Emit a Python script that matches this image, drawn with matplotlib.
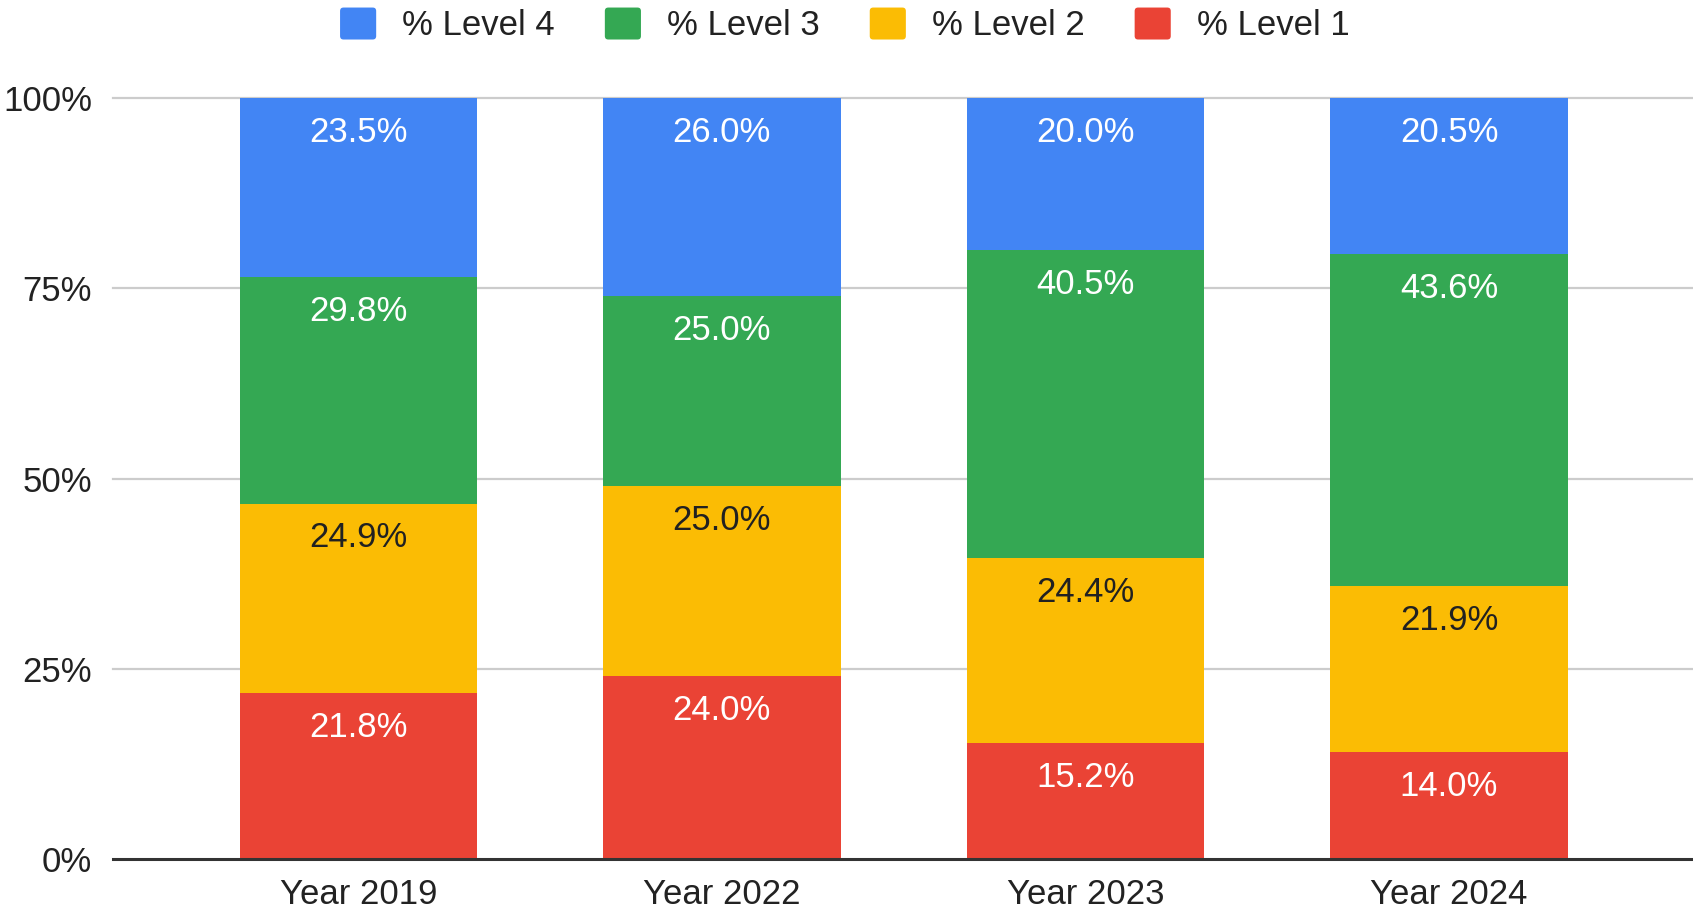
import matplotlib
matplotlib.use('Agg')
import numpy as np
from matplotlib import pyplot as plt
from matplotlib.patches import Patch, FancyBboxPatch
from matplotlib.legend_handler import HandlerPatch

plt.rcParams['font.family'] = ['Liberation Sans', 'DejaVu Sans']

years = ['Year 2019', 'Year 2022', 'Year 2023', 'Year 2024']
level_1 = [21.8, 24.0, 15.2, 14.0]
level_2 = [24.9, 25.0, 24.4, 21.9]
level_3 = [29.8, 25.0, 40.5, 43.6]
level_4 = [23.5, 26.0, 20.0, 20.5]

series = [('% Level 1', level_1, '#EA4335', 'white'),
          ('% Level 2', level_2, '#FBBC04', '#212121'),
          ('% Level 3', level_3, '#34A853', 'white'),
          ('% Level 4', level_4, '#4285F4', 'white')]

# total de cada barra, para apilar al 100%
totals = np.sum([level_1, level_2, level_3, level_4], axis=0)


class RoundSquare(HandlerPatch):
    # cuadrito de leyenda con esquinas redondeadas
    def create_artists(self, legend, orig_handle, xdescent, ydescent,
                       width, height, fontsize, trans):
        p = FancyBboxPatch((-xdescent, -ydescent), width, height,
                           boxstyle='round,pad=0,rounding_size=2.5',
                           facecolor=orig_handle.get_facecolor(),
                           edgecolor='none', transform=trans)
        return [p]


fig = plt.figure(figsize=(16.93, 9.11), dpi=100)
ax = fig.add_axes([0.0667, 0.0571, 0.9333, 0.8353])

x = np.arange(len(years))
bottom = np.zeros(len(years))
for name, vals, color, txt_color in series:
    frac = np.array(vals) / totals
    ax.bar(x, frac, 0.653, bottom=bottom, color=color, zorder=3, label=name)
    for xi, b, f, v in zip(x, bottom, frac, vals):
        ax.annotate(f'{v:.1f}%', (xi, b + f), xytext=(0, -31.5),
                    textcoords='offset points', ha='center', va='baseline',
                    color=txt_color, fontsize=25, zorder=4)
    bottom += frac

# rejilla horizontal
for yv in [0.25, 0.5, 0.75, 1.0]:
    ax.axhline(yv, color='#cccccc', lw=1.6, zorder=1, clip_on=False)
ax.axhline(0, color='#333333', lw=2.2, zorder=5, clip_on=False)

ax.set_xlim(-0.675, 3.671)
ax.set_ylim(0, 1)
ax.set_yticks([0, 0.25, 0.5, 0.75, 1.0])
ax.set_yticklabels(['0%', '25%', '50%', '75%', '100%'])
ax.set_xticks(x)
ax.set_xticklabels(years)
ax.tick_params(axis='y', length=0, pad=15, labelsize=25, labelcolor='#222222')
ax.tick_params(axis='x', length=0, pad=14, labelsize=25, labelcolor='#222222')
for s in ax.spines.values():
    s.set_visible(False)

handles = [Patch(facecolor=c, label=n) for n, _, c, _ in series[::-1]]
fig.legend(handles=handles, loc='center', bbox_to_anchor=(0.499, 0.9726), ncol=4,
           frameon=False, fontsize=25, handlelength=1.04, handleheight=1.04,
           handletextpad=0.75, columnspacing=1.44, labelcolor='#222222',
           handler_map={Patch: RoundSquare()})

fig.savefig('out.png', dpi=100)
